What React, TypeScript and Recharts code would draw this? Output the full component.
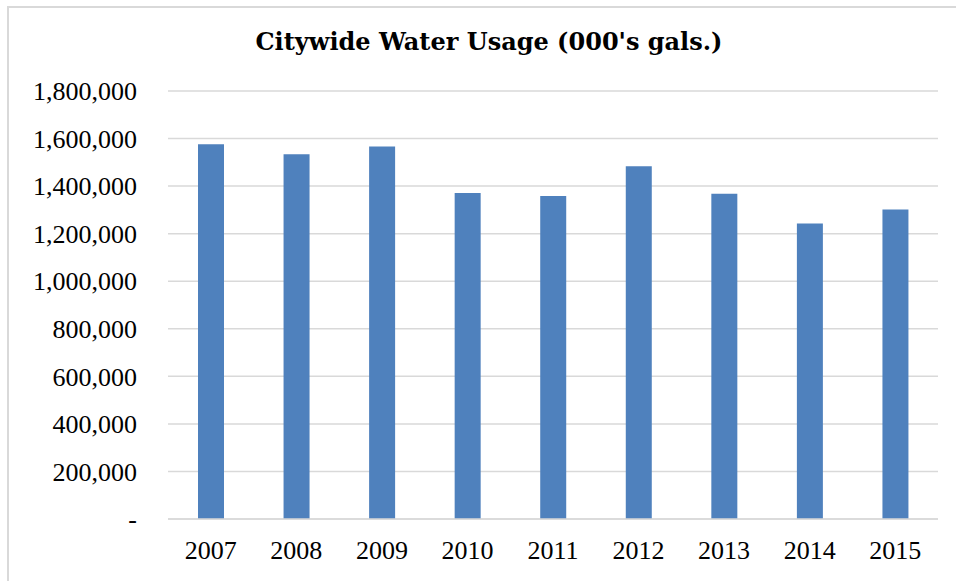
import { Bar, BarChart, CartesianGrid, XAxis, YAxis } from 'recharts'

const years = ['2007', '2008', '2009', '2010', '2011', '2012', '2013', '2014', '2015']
const usage = [1576000, 1534000, 1567000, 1371000, 1358000, 1484000, 1368000, 1243000, 1302000]
const yTicks = [0, 200000, 400000, 600000, 800000, 1000000, 1200000, 1400000, 1600000, 1800000]

const data = years.map((year, i) => ({ year, usage: usage[i] }))

const fmt = (v: number) => (v === 0 ? '-' : v.toLocaleString('en-US'))

const tickFont = { fontSize: 26, fill: '#000', fontFamily: '"Liberation Serif", "Times New Roman", serif' }

export default function App() {
  return (
    <div style={{ position: 'absolute', left: 0, top: 0, width: 956, height: 581, background: '#fff', overflow: 'hidden' }}>
      <div
        style={{
          position: 'absolute',
          left: 7,
          top: 6,
          width: 980,
          height: 600,
          border: '2px solid #d9d9d9',
        }}
      />
      <div
        style={{
          position: 'absolute',
          left: 0,
          width: 978,
          top: 27,
          textAlign: 'center',
          fontFamily: '"DejaVu Serif", serif',
          fontWeight: 'bold',
          fontSize: 24,
          color: '#000',
        }}
      >
        Citywide Water Usage (000's gals.)
      </div>
      <div style={{ position: 'absolute', left: 0, top: 0 }}>
        <BarChart
          width={956}
          height={581}
          data={data}
          margin={{ top: 91, right: 18, left: 0, bottom: 32 }}
        >
          <CartesianGrid stroke="#d9d9d9" strokeWidth={1.5} vertical={false} />
          <XAxis
            dataKey="year"
            tickLine={false}
            axisLine={{ stroke: '#d9d9d9', strokeWidth: 1.5 }}
            tick={tickFont}
            tickMargin={16}
            interval={0}
          />
          <YAxis
            domain={[0, 1800000]}
            ticks={yTicks}
            tickFormatter={fmt}
            tickLine={false}
            axisLine={false}
            tick={tickFont}
            tickMargin={25}
            width={168}
            interval={0}
          />
          <Bar dataKey="usage" fill="#4f81bd" barSize={26} isAnimationActive={false} />
        </BarChart>
      </div>
    </div>
  )
}
